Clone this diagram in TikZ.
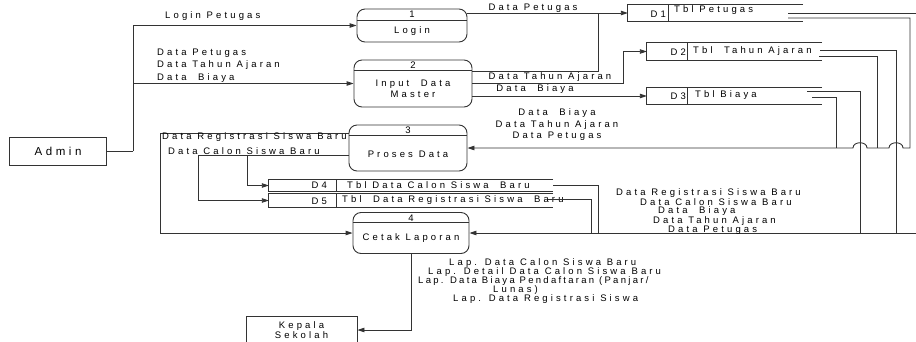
\documentclass[tikz,border=0pt]{standalone}
\usepackage{fontspec}
\newfontfamily\dfdschrift[LetterSpace=33]{Liberation Sans}
\newfontfamily\dfdeng[LetterSpace=24]{Liberation Sans}
\newfontfamily\dfdgross[LetterSpace=31]{Liberation Sans}
\usetikzlibrary{arrows.meta}

\tikzset{
	linie/.style={draw=black!80, line width=0.9pt},
	pfeil/.style={linie, -{Triangle[length=7pt,width=4.5pt]}},
	prozess/.style={linie, rounded corners=8pt, inner sep=0pt},
	terminator/.style={linie, inner sep=0pt},
	speicher/.style={inner sep=0pt},
	txt/.style={font=\dfdschrift\fontsize{9.5}{10}\selectfont, inner sep=0pt},
}

\begin{document}
\begin{tikzpicture}[x=1pt, y=-1pt]
\useasboundingbox (0,0) rectangle (916,341);

% Externe Einheiten
\node[terminator, minimum width=97pt, minimum height=28pt, font=\dfdgross\fontsize{11.5}{13}\selectfont] (admin) at (58,151) {Admin};
\node[terminator, minimum width=111pt, minimum height=28pt, align=center, font=\dfdschrift\fontsize{9.5}{10}\selectfont] (kepala) at (301.5,330) {Kepala\\Sekolah};

% Prozesse
\node[prozess, minimum width=110pt, minimum height=33pt] (login) at (412,25.5) {};
\draw[linie] ([yshift=-12pt]login.north west) -- ([yshift=-12pt]login.north east);
\node[txt] (login-nr) at (412,14.5) {1};
\node[txt] (login-name) at (412,31) {Login};

\node[prozess, minimum width=118pt, minimum height=47pt] (idm) at (413,83.5) {};
\draw[linie] ([yshift=-11pt]idm.north west) -- ([yshift=-11pt]idm.north east);
\node[txt] (idm-nr) at (413,65.5) {2};
\node[txt, align=center, font=\dfdschrift\fontsize{9.5}{10.5}\selectfont] (idm-name) at (413,89) {Input\ \ Data\\Master};

\node[prozess, minimum width=118pt, minimum height=46pt] (proses) at (408,148) {};
\draw[linie] ([yshift=-11pt]proses.north west) -- ([yshift=-11pt]proses.north east);
\node[txt] (proses-nr) at (408,130) {3};
\node[txt] (proses-name) at (408,154) {Proses Data};

\node[prozess, minimum width=116pt, minimum height=41pt] (cetak) at (411,233) {};
\draw[linie] ([yshift=-10.5pt]cetak.north west) -- ([yshift=-10.5pt]cetak.north east);
\node[txt] (cetak-nr) at (411,218) {4};
\node[txt] (cetak-name) at (411,238) {Cetak Laporan};

% Datenspeicher
\node[speicher, minimum width=175pt, minimum height=16pt] (d1) at (715.5,13) {};
\draw[linie] (d1.north east) -- (d1.north west) -- (d1.south west) -- (d1.south east);
\draw[linie] ([xshift=41pt]d1.north west) -- ([xshift=41pt]d1.south west);
\node[txt, anchor=east] (d1-nr) at (666,14) {D1};
\node[txt, anchor=west] (d1-name) at (674,10.5) {Tbl Petugas};

\node[speicher, minimum width=175pt, minimum height=17pt] (d2) at (734.5,51.5) {};
\draw[linie] (d2.north east) -- (d2.north west) -- (d2.south west) -- (d2.south east);
\draw[linie] ([xshift=41pt]d2.north west) -- ([xshift=41pt]d2.south west);
\node[txt, anchor=east] (d2-nr) at (686,52) {D2};
\node[txt, anchor=west] (d2-name) at (693,51.5) {Tbl\ \ Tahun Ajaran};

\node[speicher, minimum width=175pt, minimum height=16pt] (d3) at (734.5,96) {};
\draw[linie] (d3.north east) -- (d3.north west) -- (d3.south west) -- (d3.south east);
\draw[linie] ([xshift=41pt]d3.north west) -- ([xshift=41pt]d3.south west);
\node[txt, anchor=east] (d3-nr) at (686,96.5) {D3};
\node[txt, anchor=west] (d3-name) at (695,95.5) {Tbl Biaya};

\node[speicher, minimum width=284pt, minimum height=11pt] (d4) at (411,185.5) {};
\draw[linie] (d4.north east) -- (d4.north west) -- (d4.south west) -- (d4.south east);
\draw[linie] ([xshift=68pt]d4.north west) -- ([xshift=68pt]d4.south west);
\node[txt, anchor=east] (d4-nr) at (327,185) {D4};
\node[txt, anchor=west] (d4-name) at (347,185.5) {Tbl Data Calon Siswa\ \ Baru};

\node[speicher, minimum width=284pt, minimum height=13pt] (d5) at (411,200.5) {};
\draw[linie] (d5.north east) -- (d5.north west) -- (d5.south west) -- (d5.south east);
\draw[linie] ([xshift=68pt]d5.north west) -- ([xshift=68pt]d5.south west);
\node[txt, anchor=east] (d5-nr) at (327,201.5) {D5};
\node[txt, anchor=west] (d5-name) at (342,200) {Tbl\ \ Data Registrasi Siswa\ \ Baru};

% Knickpunkte
\coordinate (verteiler) at (133,151);
\coordinate (knotenA) at (598,13);
\coordinate (eckeC) at (918,13);
\coordinate (eckeP) at (910,148);
\coordinate (sprungB) at (896,148);
\coordinate (sprungA) at (860,148);
\coordinate (einP2) at (877,148);
\coordinate (einP3) at (836,148);
\coordinate (einC4) at (598,233);
\coordinate (einC5) at (591,233);
\coordinate (gabelA) at (198,155);
\coordinate (gabelB) at (247,155);
\coordinate (schleife) at (160,133);

% Admin -> Login, Input Data Master
\draw[linie] (admin.east) -- (verteiler);
\draw[pfeil] (verteiler) |- (login.west);
\draw[pfeil] (verteiler) |- (idm.west);
\node[txt, anchor=west] (l-login) at (165,16) {Login Petugas};
\node[txt, anchor=west, align=left, font=\dfdschrift\fontsize{9.5}{12.3}\selectfont] (l-master) at (157,65.5) {Data Petugas\\Data Tahun Ajaran\\Data\ \ Biaya};

% Login, Input Data Master -> Speicher
\draw[pfeil] (login.east |- d1.west) -- (d1.west);
\draw[linie] ([yshift=-12pt]idm.north east) -| (knotenA);
\draw[pfeil] (idm.east) -- ++(151,0) |- (d2.west);
\draw[pfeil] (idm.east |- d3.west) -- (d3.west);
\node[txt] (l-petugas) at (533,8) {Data Petugas};
\node[txt] (l-tahun) at (550,77) {Data Tahun Ajaran};
\node[txt] (l-biaya) at (535,89) {Data\ \ Biaya};

% Speicher -> Proses Data (mit Spruengen)
\draw[pfeil] ([xshift=-15pt,yshift=-5pt]d1.east) -| (eckeP) -- ([xshift=7pt]sprungB) .. controls +(0,-7) and +(0,-7) .. ([xshift=-7pt]sprungB) -- ([xshift=7pt]sprungA) .. controls +(0,-7) and +(0,-7) .. ([xshift=-7pt]sprungA) -- (proses.east);
\draw[linie] ([xshift=-3pt,yshift=-4.5pt]d2.east) -| (einP2);
\draw[linie] ([xshift=-10pt,yshift=-1pt]d3.east) -| (einP3);
\node[txt, align=center, font=\dfdschrift\fontsize{9.5}{11.5}\selectfont] (l-proses) at (557,125) {Data\ \ Biaya\\Data Tahun Ajaran\\Data Petugas};

% Speicher -> Cetak Laporan
\draw[pfeil] ([xshift=-15pt]d1.east) -- (eckeC) |- (cetak.east);
\draw[linie] ([xshift=-2pt,yshift=1.5pt]d2.east) -| (sprungB |- cetak.east);
\draw[linie] ([xshift=-15pt,yshift=5pt]d3.east) -| (sprungA |- cetak.east);
\draw[linie] (d4.east) -| (einC4);
\draw[linie] ([xshift=-5pt,yshift=1.5pt]d5.east) -| (einC5);
\node[txt, anchor=west, align=left, font=\dfdschrift\fontsize{9.5}{8.7}\selectfont] (l-cetak) at (616,211.5) {Data Registrasi Siswa Baru\\\hspace*{24pt}Data Calon Siswa Baru\\\hspace*{42pt}Data\ \ Biaya\\\hspace*{37pt}Data Tahun Ajaran\\\hspace*{52pt}Data Petugas};

% Proses Data -> D4, D5, Cetak Laporan
\draw[linie] ([yshift=-7pt]proses.west) -- (gabelA);
\draw[pfeil] (gabelA) |- (d5.west);
\draw[pfeil] (gabelB) |- (d4.west);
\draw[pfeil] ([yshift=15pt]proses.west) -- (schleife) |- (cetak.west);
\node[txt, anchor=west] (l-regist) at (162,137) {Data Registrasi Siswa Baru};
\node[txt, anchor=west] (l-calon) at (168,151) {Data Calon Siswa Baru};

% Cetak Laporan -> Kepala Sekolah
\draw[pfeil] (cetak.south) |- (kepala.east);
\node[txt, anchor=west, align=left, font=\dfdschrift\fontsize{9.5}{9.1}\selectfont] (l-lap) at (418,281) {\hspace*{31pt}Lap. Data Calon Siswa Baru\\\hspace*{10pt}Lap. Detail Data Calon Siswa Baru\\{\dfdeng Lap. Data Biaya Pendaftaran (Panjar/}\\\hspace*{75pt}Lunas)\\\hspace*{35pt}Lap. Data Registrasi Siswa};
\end{tikzpicture}
\end{document}
